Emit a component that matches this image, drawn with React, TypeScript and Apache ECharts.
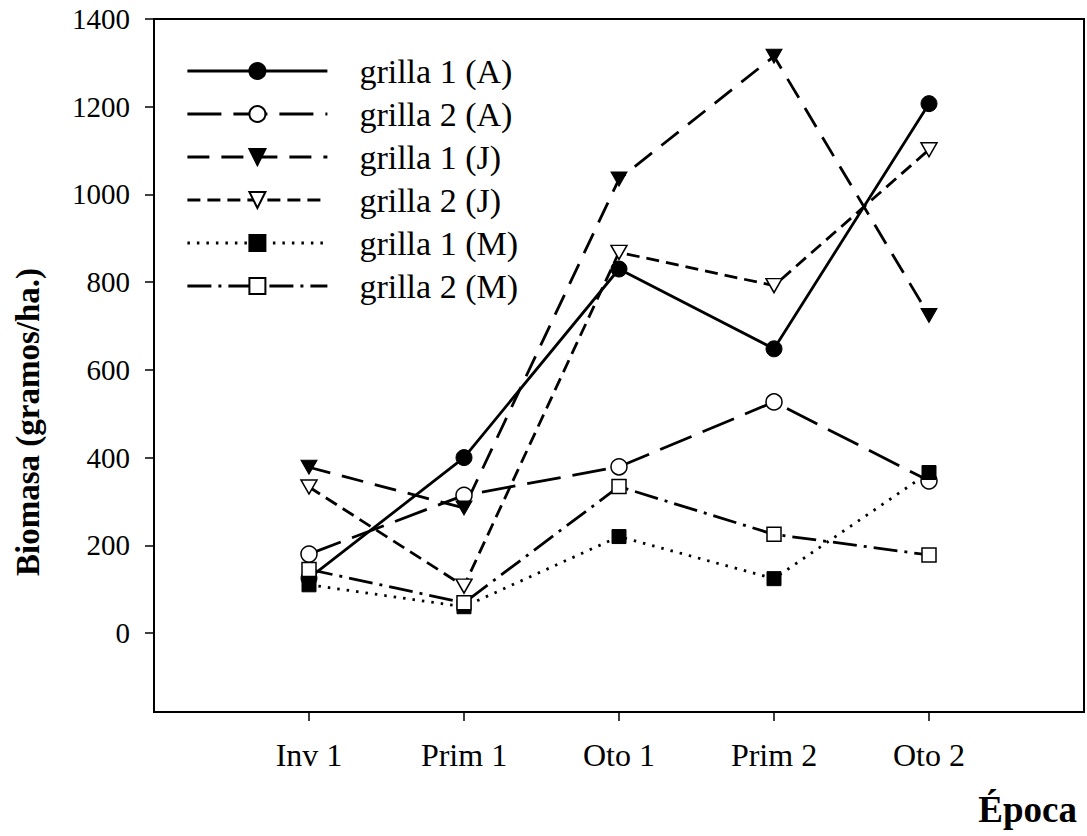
import React, { useEffect, useRef } from 'react';
import * as echarts from 'echarts';

const categories = ['Inv 1', 'Prim 1', 'Oto 1', 'Prim 2', 'Oto 2'];
const grilla1A = [125, 400, 830, 648, 1207];
const grilla2A = [180, 314, 379, 527, 347];
const grilla1J = [378, 285, 1035, 1315, 724];
const grilla2J = [333, 107, 868, 792, 1102];
const grilla1M = [110, 60, 220, 124, 366];
const grilla2M = [145, 69, 334, 225, 178];
const yTicks = [0, 200, 400, 600, 800, 1000, 1200, 1400];
const xTicks = [1, 2, 3, 4, 5];

const FONT = 'Liberation Serif, Times New Roman, serif';

function toPairs(vals: number[]) {
  return vals.map((v, i) => [i + 1, v]);
}

export default function App() {
  const ref = useRef<HTMLDivElement>(null);
  useEffect(() => {
    if (!ref.current) return;
    const chart = echarts.init(ref.current, undefined, { renderer: 'svg' });
    const filled = { color: '#000', borderColor: '#000', borderWidth: 1 };
    const open = { color: '#fff', borderColor: '#000', borderWidth: 1.5 };
    const lw = 2.8;
    const mk = (
      name: string,
      vals: number[],
      symbol: string,
      size: number | number[],
      rotate: number,
      item: any,
      dash: any
    ) => ({
      name,
      type: 'line',
      data: toPairs(vals),
      symbol,
      symbolSize: size,
      symbolRotate: rotate,
      showAllSymbol: true,
      itemStyle: item,
      lineStyle: { color: '#000', width: lw, type: dash },
      emphasis: { disabled: true },
    });
    chart.setOption({
      animation: false,
      backgroundColor: '#fff',
      grid: {
        left: 154,
        right: 3,
        top: 19,
        bottom: 124,
        show: true,
        borderColor: '#000',
        borderWidth: 2,
        backgroundColor: 'transparent',
      },
      legend: {
        orient: 'vertical',
        left: 186,
        top: 54,
        padding: 0,
        itemWidth: 140,
        itemHeight: 20,
        itemGap: 9,
        lineStyle: { width: 2.8 },
        textStyle: {
          fontFamily: FONT,
          fontSize: 34,
          color: '#000',
          lineHeight: 32,
          padding: [0, 0, 0, 27],
        },
        data: ['grilla 1 (A)', 'grilla 2 (A)', 'grilla 1 (J)', 'grilla 2 (J)', 'grilla 1 (M)', 'grilla 2 (M)'],
      },
      xAxis: {
        type: 'value',
        min: 0,
        max: 6,
        splitLine: { show: false },
        axisLine: { onZero: false, lineStyle: { color: '#000', width: 2 } },
        axisTick: {
          show: true,
          length: 9,
          lineStyle: { color: '#000', width: 1.5 },
          customValues: xTicks,
        },
        axisLabel: {
          customValues: xTicks,
          formatter: (v: number) => categories[Math.round(v) - 1] ?? '',
          fontFamily: FONT,
          fontSize: 32,
          color: '#000',
          margin: 27,
        },
      },
      yAxis: {
        type: 'value',
        min: -180,
        max: 1400,
        splitLine: { show: false },
        axisLine: { onZero: false, lineStyle: { color: '#000', width: 2 } },
        axisTick: {
          show: true,
          length: 9,
          lineStyle: { color: '#000', width: 1.5 },
          customValues: yTicks,
        },
        axisLabel: {
          customValues: yTicks,
          formatter: (v: number) => String(v),
          fontFamily: FONT,
          fontSize: 29,
          color: '#000',
          margin: 24,
        },
      },
      graphic: [
        {
          type: 'text',
          x: 28,
          y: 422,
          rotation: Math.PI / 2,
          style: {
            text: 'Biomasa (gramos/ha.)',
            font: `bold 33px ${FONT}`,
            fill: '#000',
            textAlign: 'center',
            textVerticalAlign: 'middle',
          },
        },
        {
          type: 'text',
          x: 1077,
          y: 809,
          style: {
            text: 'Época',
            font: `bold 37px ${FONT}`,
            fill: '#000',
            textAlign: 'right',
            textVerticalAlign: 'middle',
          },
        },
      ],
      series: [
        mk('grilla 1 (A)', grilla1A, 'circle', 16, 0, filled, 'solid'),
        mk('grilla 2 (A)', grilla2A, 'circle', 16, 0, open, [34, 12]),
        mk('grilla 1 (J)', grilla1J, 'triangle', [16, 14], 180, filled, [22, 12]),
        mk('grilla 2 (J)', grilla2J, 'triangle', [16, 14], 180, open, [13, 7]),
        mk('grilla 1 (M)', grilla1M, 'rect', 14, 0, filled, [2.5, 7]),
        mk('grilla 2 (M)', grilla2M, 'rect', 14, 0, open, [24, 7, 3, 7]),
      ],
    });
    return () => chart.dispose();
  }, []);
  return (
    <div
      ref={ref}
      style={{ position: 'absolute', left: 0, top: 0, width: 1087, height: 836 }}
    />
  );
}
